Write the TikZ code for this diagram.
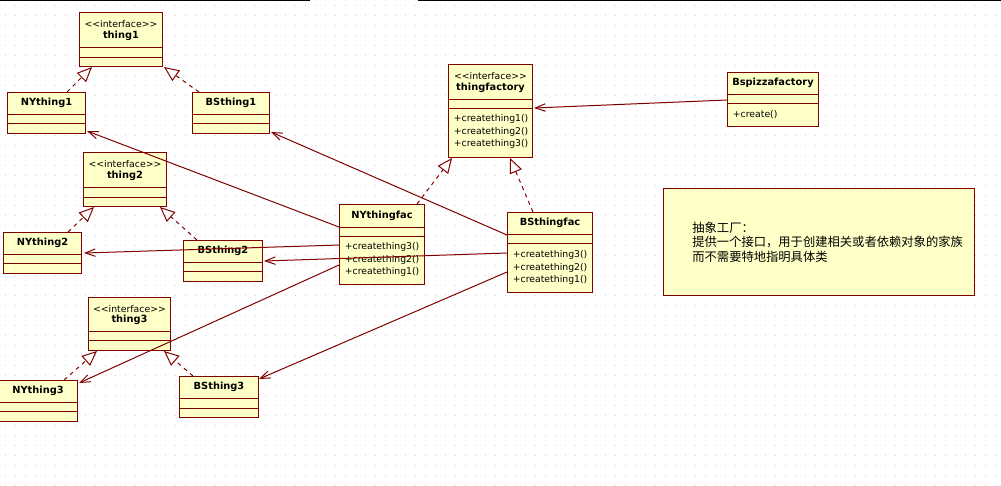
\documentclass[tikz,border=0pt]{standalone}
\usepackage{fontspec}
\setmainfont{DejaVu Sans}
\newfontfamily\cjk{Noto Sans CJK SC}
\usetikzlibrary{arrows.meta, calc}
\definecolor{umlfill}{RGB}{255,255,200}
\definecolor{umlline}{RGB}{128,0,0}

\begin{document}
\begin{tikzpicture}[
    x=0.02cm, y=-0.02cm,
    cls/.style={rectangle, draw=umlline, fill=umlfill, line width=0.02cm, anchor=north west, inner sep=0pt},
    umlbox/.style 2 args={cls, minimum width=#1*0.02cm, minimum height=#2*0.02cm},
    divider/.style={draw=umlline, line width=0.02cm},
    cname/.style={font=\fontsize{5.6}{6.5}\selectfont\bfseries, inner sep=0pt},
    stereo/.style={font=\fontsize{5.3}{6.5}\selectfont, inner sep=0pt},
    oper/.style={font=\fontsize{5.3}{6.5}\selectfont, inner sep=0pt, anchor=west},
    notetext/.style={font=\cjk\fontsize{7}{8.3}\selectfont, align=left, anchor=west, inner sep=0pt},
    griddot/.style={fill=black!18},
    realize/.style={draw=umlline, line width=0.02cm, dash pattern=on 0.08cm off 0.08cm, -{Triangle[open, length=0.3cm, width=0.26cm]}},
    assoc/.style={draw=umlline, line width=0.02cm, -{Straight Barb[length=0.2cm, width=0.15cm]}}
  ]
    \useasboundingbox (0,0) rectangle (1001,485);
    \foreach \gx in {5,15,...,1000}
      \foreach \gy in {5,15,...,485}
        \fill[griddot] (\gx,\gy) rectangle ++(1,1);
    \draw[black, line width=0.02cm] (0,0.5) -- (310,0.5) (418,0.5) -- (1001,0.5);

    \node[umlbox={83}{54}] (thing1) at (79,12) {};
    \node[umlbox={78}{41}] (NYthing1) at (7,92) {};
    \node[umlbox={77}{41}] (BSthing1) at (192,92) {};
    \node[umlbox={83}{54}] (thing2) at (83,152) {};
    \node[umlbox={78}{41}] (NYthing2) at (3,232) {};
    \node[umlbox={79}{41}] (BSthing2) at (183,240) {};
    \node[umlbox={82}{53}] (thing3) at (88,297) {};
    \node[umlbox={79}{41}] (NYthing3) at (-2,380) {};
    \node[umlbox={79}{41}] (BSthing3) at (179,376) {};
    \node[umlbox={84}{93}] (thingfactory) at (448,64) {};
    \node[umlbox={85}{80}] (NYthingfac) at (339,204) {};
    \node[umlbox={85}{80}] (BSthingfac) at (507,212) {};
    \node[umlbox={91}{54}] (Bspizzafactory) at (727,72) {};
    \node[umlbox={311}{107}] (note) at (663,188) {};

    \foreach \n/\a/\b in {thing1/35/45, NYthing1/22/31, BSthing1/22/31, thing2/35/45, NYthing2/22/31,
        BSthing2/22/31, thing3/34/43, NYthing3/22/31, BSthing3/22/32, thingfactory/35/44,
        NYthingfac/23/32, BSthingfac/22/31, Bspizzafactory/22/31}
      \draw[divider] ($(\n.north west)+(0,\a)$) -- ($(\n.north east)+(0,\a)$)
                     ($(\n.north west)+(0,\b)$) -- ($(\n.north east)+(0,\b)$);

    \foreach \n in {thing1, thing2, thing3, thingfactory}
      \node[stereo] (\n-st) at ($(\n.north)+(0,12)$) {<\kern0pt<interface>\kern0pt>};
    \foreach \n/\d in {thing1/24, thing2/24, thing3/23, thingfactory/24, NYthing1/11, BSthing1/11,
        NYthing2/11, BSthing2/11, NYthing3/11, BSthing3/11, NYthingfac/12, BSthingfac/11, Bspizzafactory/11}
      \node[cname] (\n-nm) at ($(\n.north)+(0,\d)$) {\n};
    \foreach \n/\d/\i/\j/\k in {thingfactory/55/1/2/3, NYthingfac/43/3/2/1, BSthingfac/43/3/2/1} {
      \node[oper] (\n-o1) at ($(\n.north west)+(5.5,\d)$) {+creatething\i()};
      \node[oper] (\n-o2) at ($(\n.north west)+(5.5,\d+12.5)$) {+creatething\j()};
      \node[oper] (\n-o3) at ($(\n.north west)+(5.5,\d+25)$) {+creatething\k()};
    }
    \node[oper] (Bspizzafactory-o1) at ($(Bspizzafactory.north west)+(5.5,43)$) {+create()};
    \node[notetext] (note-txt) at ($(note.north west)+(29,54)$)
      {抽象工厂：\\提供一个接口，用于创建相关或者依赖对象的家族\\而不需要特地指明具体类};

    \draw[realize] ($(NYthing1.north west)+(60,0)$) -- ($(thing1.south west)+(13,0)$);
    \draw[realize] ($(BSthing1.north west)+(7,0)$) -- ($(thing1.south east)+(1,0)$);
    \draw[realize] ($(NYthing2.north west)+(65,0)$) -- ($(thing2.south west)+(11,0)$);
    \draw[realize] ($(BSthing2.north west)+(14,0)$) -- ($(thing2.south east)+(-7,0)$);
    \draw[realize] ($(NYthing3.north west)+(66,0)$) -- ($(thing3.south west)+(9,0)$);
    \draw[realize] ($(BSthing3.north west)+(14,0)$) -- ($(thing3.south east)+(-7,0)$);
    \draw[realize] ($(NYthingfac.north west)+(78,0)$) -- ($(thingfactory.south west)+(4,0)$);
    \draw[realize] ($(BSthingfac.north west)+(26,0)$) -- ($(thingfactory.south west)+(62,0)$);

    \draw[assoc] ($(NYthingfac.north west)+(0,23)$) -- ($(NYthing1.south east)+(1,-3)$);
    \draw[assoc] ($(BSthingfac.north west)+(0,23)$) -- ($(BSthing1.south east)+(1,-2)$);
    \draw[assoc] ($(NYthingfac.north west)+(0,41)$) -- ($(NYthing2.north east)+(2,21)$);
    \draw[assoc] ($(BSthingfac.north west)+(0,41)$) -- ($(BSthing2.north east)+(1,21)$);
    \draw[assoc] ($(NYthingfac.north west)+(0,61)$) -- ($(NYthing3.north east)+(1,3)$);
    \draw[assoc] ($(BSthingfac.north west)+(0,60)$) -- ($(BSthing3.north east)+(0,3)$);
    \draw[assoc] ($(Bspizzafactory.north west)+(0,28)$) -- ($(thingfactory.north east)+(1,44)$);
  \end{tikzpicture}
\end{document}
